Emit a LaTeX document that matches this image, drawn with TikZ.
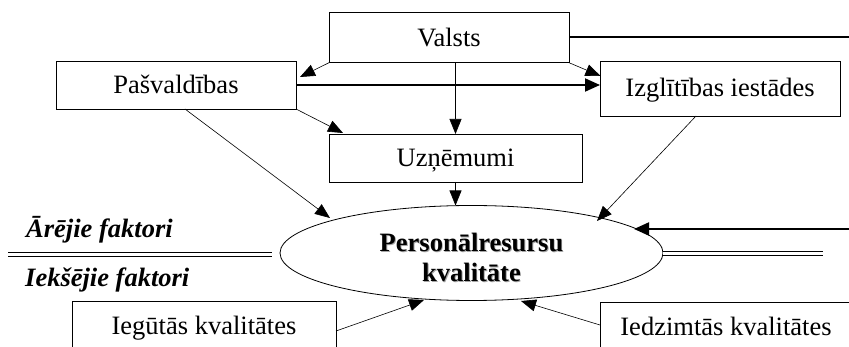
\documentclass[tikz,border=0pt]{standalone}
\usepackage{fontspec}
\setmainfont{Liberation Serif}
\usetikzlibrary{arrows.meta,calc,shapes.geometric}
% bold text with a soft grey shadow behind it
\newcommand\shtext[1]{\makebox[0pt][l]{\hspace{0.9pt}\raisebox{-0.9pt}{\textcolor{black!35}{#1}}}#1}
\begin{document}
\begin{tikzpicture}[x=1pt,y=-1pt,
  font=\fontsize{26.5}{30}\selectfont,
  box/.style={draw, line width=0.8pt, inner sep=0pt, outer sep=0pt, align=center,
              text height=18pt, text depth=1pt},
  arr/.style={line width=0.6pt, -{Triangle[length=15pt,width=12pt]}},
  thickarr/.style={line width=2pt, -{Triangle[length=15pt,width=13pt]}},
  dbl/.style={double, line width=1.1pt, double distance=2.6pt},
  side/.style={font=\fontsize{26.5}{30}\selectfont\bfseries\itshape, anchor=base west, inner sep=0pt}
]
\useasboundingbox (0,0) rectangle (849,347);

% boxes
\node[box, minimum width=240pt, minimum height=50pt] (valsts) at (449,37.7) {Valsts};
\node[box, minimum width=240pt, minimum height=48pt] (pasv) at (176,85) {Pašvaldības};
\node[box, minimum width=240pt, minimum height=55pt] (izgl) at (720,88.5) {Izglītības iestādes};
\node[box, minimum width=253pt, minimum height=48pt] (uzn) at (455.5,158) {Uzņēmumi};
\node[draw, ellipse, line width=0.8pt, minimum width=383pt, minimum height=95pt,
      inner sep=0pt, outer sep=0pt, align=center,
      font=\fontsize{26.5}{30}\selectfont\bfseries] (pers) at (471.5,253)
      {\rule{0pt}{27.5pt}\shtext{Personālresursu}\\\shtext{kvalitāte}};
\node[box, minimum width=264pt, minimum height=50pt] (iegut) at (204,326) {Iegūtās kvalitātes};
\node[box, minimum width=252pt, minimum height=50pt] (iedz) at (726,327) {Iedzimtās kvalitātes};

% side captions
\node[side] (arej) at (26,237.7) {Ārējie faktori};
\node[side] (ieksej) at (25,286.5) {Iekšējie faktori};

% free ends
\coordinate (eastout) at (849,37.5);
\coordinate (eastin) at (849,229);
\coordinate (sepL) at (8,254.5);
\coordinate (sepLend) at (272,254.5);
\coordinate (sepR) at (823,253.7);

% connectors
\draw[line width=2pt] (valsts.east |- eastout) -- (eastout);
\draw[arr] (valsts.south west) -- ($(pasv.north east)+(4,16)$);
\draw[arr] (valsts.south east) -- ($(izgl.north west)+(0.5,15)$);
\draw[arr] (valsts.south -| uzn.north) -- (uzn.north);
\draw[thickarr] (pasv.east) -- (pasv.east -| izgl.west);
\draw[arr] (pasv.south east) -- ($(uzn.north west)+(14,-1)$);
\draw[arr] ($(pasv.south)+(9,0)$) -- ($(pers.center)+(-141.5,-35)$);
\draw[arr] ($(izgl.south)+(-24,0)$) -- ($(pers.center)+(125.5,-32)$);
\draw[arr] (uzn.south) -- (uzn.south |- pers.north);
\draw[thickarr] (eastin) -- ($(pers.center)+(162.5,-24)$);
\draw[arr] ($(iegut.east)+(0,5)$) -- ($(pers.center)+(-47.5,47)$);
\draw[arr] ($(iedz.west)+(0,-2)$) -- ($(pers.center)+(49.5,48)$);

% boundary between outer and inner factors
\draw[dbl] (sepL) -- (sepLend);
\draw[dbl] (pers.east |- sepR) -- (sepR);
\end{tikzpicture}
\end{document}
